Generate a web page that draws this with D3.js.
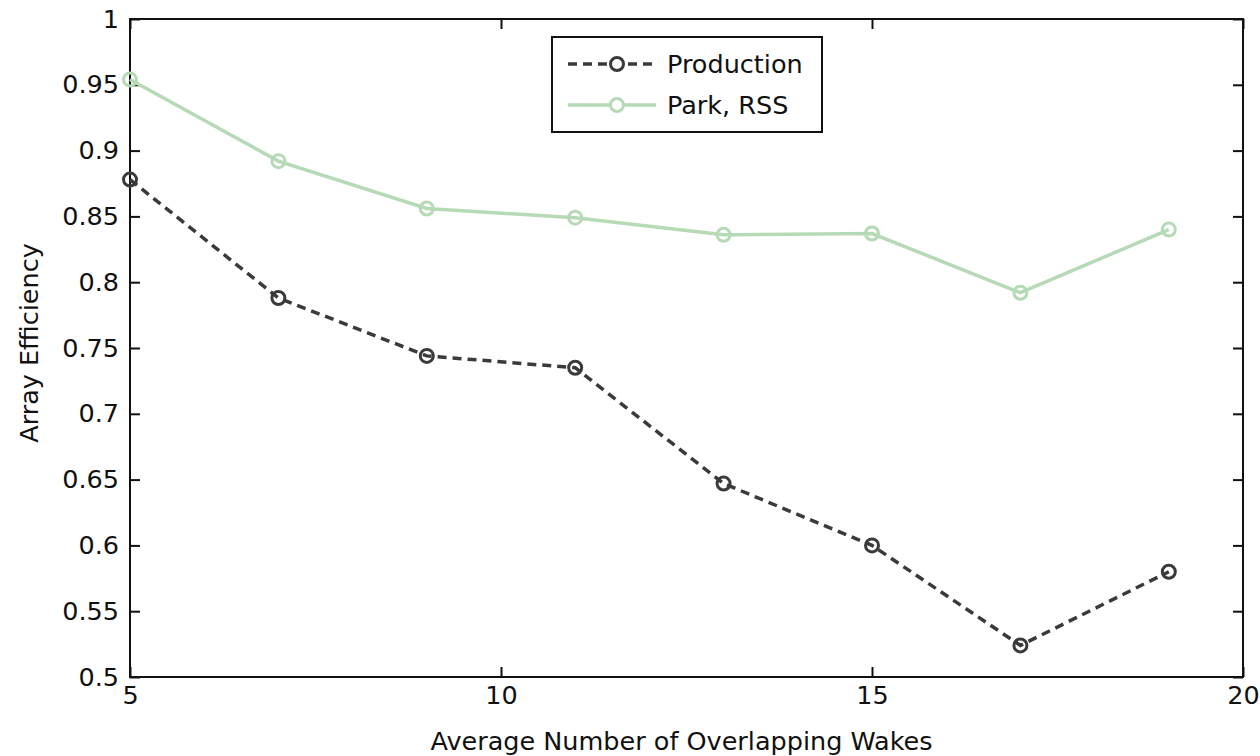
<!DOCTYPE html>
<html>
<head>
<meta charset="utf-8">
<script src="https://cdn.jsdelivr.net/npm/d3@7"></script>
<style>
  body { margin: 0; background: #fff; }
  text { font-family: "DejaVu Sans", Arial, sans-serif; fill: #111; }
</style>
</head>
<body>
<div id="chart"></div>
<script>
// data
var wakes = [5, 7, 9, 11, 13, 15, 17, 19];
var production = [0.878, 0.788, 0.744, 0.735, 0.647, 0.600, 0.524, 0.580];
var parkRSS = [0.954, 0.892, 0.856, 0.849, 0.836, 0.837, 0.792, 0.840];
var xTicks = [5, 10, 15, 20];
var yTicks = [0.5, 0.55, 0.6, 0.65, 0.7, 0.75, 0.8, 0.85, 0.9, 0.95, 1];

var W = 1260, H = 756;
var margin = {top: 19, right: 17, bottom: 79, left: 130};
var w = W - margin.left - margin.right;
var h = H - margin.top - margin.bottom;

var svg = d3.select('#chart').append('svg')
    .attr('width', W).attr('height', H);
var g = svg.append('g')
    .attr('transform', 'translate(' + margin.left + ',' + margin.top + ')');

var x = d3.scaleLinear().domain([5, 20]).range([0, w]);
var y = d3.scaleLinear().domain([0.5, 1]).range([h, 0]);

var FONT = 25.5;
var TICK = 10;

function styleAxis(sel) {
    sel.select('.domain').remove();
    sel.selectAll('.tick line').attr('stroke', '#111').attr('stroke-width', 2);
    sel.selectAll('.tick text').style('font-size', FONT + 'px');
}

// bottom axis (ticks inward)
g.append('g').attr('transform', 'translate(0,' + h + ')')
    .call(d3.axisBottom(x).tickValues(xTicks).tickSize(-TICK).tickPadding(9).tickFormat(d3.format('d')))
    .call(styleAxis);
// top axis (ticks only)
g.append('g')
    .call(d3.axisTop(x).tickValues(xTicks).tickSize(-TICK).tickFormat(''))
    .call(styleAxis);
// left axis
g.append('g')
    .call(d3.axisLeft(y).tickValues(yTicks).tickSize(-TICK).tickPadding(11).tickFormat(function (d) { return d3.format('')(+d.toFixed(2)); }))
    .call(styleAxis);
// right axis
g.append('g').attr('transform', 'translate(' + w + ',0)')
    .call(d3.axisRight(y).tickValues(yTicks).tickSize(-TICK).tickFormat(''))
    .call(styleAxis);

// frame
g.append('rect')
    .attr('width', w).attr('height', h)
    .attr('fill', 'none').attr('stroke', '#111').attr('stroke-width', 2);

var line = d3.line()
    .x(function (d) { return x(d[0]); })
    .y(function (d) { return y(d[1]); });

var series = [
    {name: 'Park, RSS', values: parkRSS, color: '#b5dab5', dash: null},
    {name: 'Production', values: production, color: '#3a3a3a', dash: '9,6'}
];

series.forEach(function (s) {
    var pts = wakes.map(function (k, i) { return [k, s.values[i]]; });
    g.append('path')
        .datum(pts)
        .attr('d', line)
        .attr('fill', 'none')
        .attr('stroke', s.color)
        .attr('stroke-width', 3.5)
        .attr('stroke-dasharray', s.dash);
    g.selectAll(null).data(pts).enter().append('circle')
        .attr('cx', function (d) { return x(d[0]); })
        .attr('cy', function (d) { return y(d[1]); })
        .attr('r', 6.5)
        .attr('fill', 'none')
        .attr('stroke', s.color)
        .attr('stroke-width', 3);
});

// axis labels
svg.append('text')
    .attr('x', margin.left + w / 2 - 5).attr('y', 750)
    .attr('text-anchor', 'middle')
    .style('font-size', FONT + 'px')
    .text('Average Number of Overlapping Wakes');
svg.append('text')
    .attr('transform', 'translate(38,' + (margin.top + h / 2 - 5) + ') rotate(-90)')
    .attr('text-anchor', 'middle')
    .style('font-size', FONT + 'px')
    .text('Array Efficiency');

// legend
var legend = svg.append('g').attr('transform', 'translate(552,37)');
legend.append('rect')
    .attr('width', 270).attr('height', 95)
    .attr('fill', '#fff').attr('stroke', '#111').attr('stroke-width', 2);
var legendItems = [series[1], series[0]];
legendItems.forEach(function (s, i) {
    var ly = 27 + i * 41;
    legend.append('line')
        .attr('x1', 16).attr('x2', 104).attr('y1', ly).attr('y2', ly)
        .attr('stroke', s.color).attr('stroke-width', 3.5)
        .attr('stroke-dasharray', s.dash);
    legend.append('circle')
        .attr('cx', 65).attr('cy', ly).attr('r', 6.5)
        .attr('fill', '#fff').attr('stroke', s.color).attr('stroke-width', 3);
    legend.append('text')
        .attr('x', 115).attr('y', ly + 9)
        .style('font-size', FONT + 'px')
        .text(s.name);
});
</script>
</body>
</html>
